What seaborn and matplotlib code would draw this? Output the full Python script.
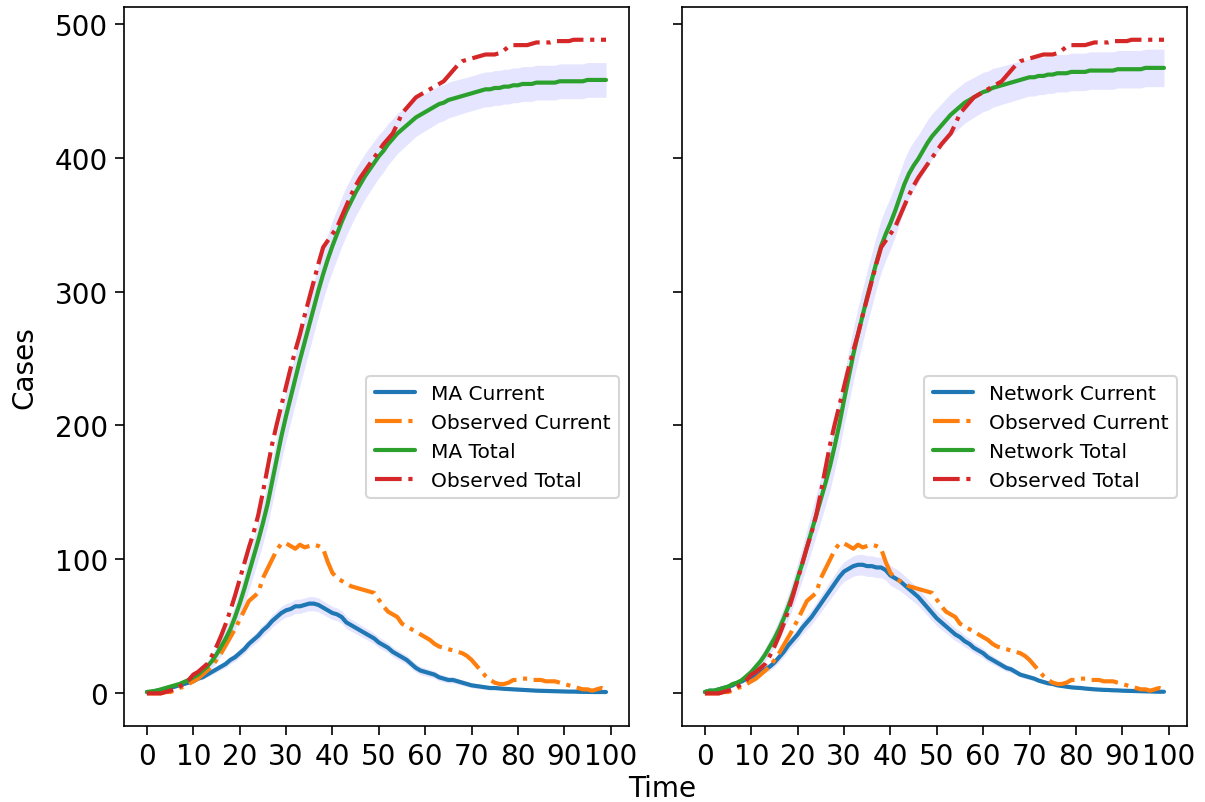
import matplotlib
matplotlib.use("Agg")
import matplotlib.pyplot as plt
import seaborn as sns
import numpy as np

# time steps 0..99
time = list(range(100))

observed_current = [0, 0, 0, 0, 1, 1, 2, 4, 5, 7,
                    9, 11, 14, 17, 20, 25, 30, 36, 42, 48,
                    55, 62, 69, 72, 75, 86, 93, 100, 107, 112,
                    112, 110, 108, 111, 109, 110, 111, 110, 108, 98,
                    90, 86, 84, 82, 80, 79, 78, 77, 76, 75,
                    70, 65, 61, 59, 57, 52, 50, 48, 46, 44,
                    42, 40, 37, 35, 34, 33, 32, 31, 30, 28,
                    25, 21, 17, 13, 10, 8, 7, 7, 8, 10,
                    10, 11, 11, 10, 10, 10, 9, 9, 9, 8,
                    7, 6, 5, 4, 3, 3, 2, 3, 4, 3]

observed_total = [0, 0, 0, 0, 1, 2, 3, 5, 7, 10,
                  14, 16, 19, 22, 28, 35, 43, 52, 62, 73,
                  85, 97, 109, 120, 133, 150, 168, 186, 201, 215,
                  229, 243, 256, 268, 282, 295, 308, 321, 333, 338,
                  343, 348, 356, 364, 372, 379, 385, 390, 395, 400,
                  405, 410, 414, 418, 425, 433, 437, 441, 445, 447,
                  449, 451, 453, 455, 457, 461, 465, 469, 472, 473,
                  474, 475, 476, 477, 477, 477, 478, 480, 483, 484,
                  484, 484, 484, 485, 486, 486, 486, 486, 487, 487,
                  487, 487, 488, 488, 488, 488, 488, 488, 488, 488]

ma_current = [1, 1, 2, 2, 3, 4, 5, 6, 7, 8,
              9, 11, 12, 14, 16, 18, 20, 22, 25, 27,
              30, 33, 37, 40, 43, 47, 50, 54, 57, 60,
              62, 63, 65, 65, 66, 67, 67, 66, 64, 62,
              60, 59, 57, 53, 51, 49, 47, 45, 43, 41,
              38, 36, 34, 31, 29, 27, 25, 22, 19, 17,
              16, 15, 14, 12, 11, 10, 10, 9, 8, 7,
              6, 5.5, 5, 4.5, 4, 4, 3.7, 3.4, 3.2, 3,
              2.8, 2.6, 2.4, 2.2, 2, 1.9, 1.8, 1.7, 1.6, 1.5,
              1.4, 1.3, 1.3, 1.2, 1.1, 1.1, 1, 1, 1, 1]

ma_total = [1, 1.5, 2, 3, 4, 5, 6, 7, 8.5, 10,
            12, 14, 17, 20, 24, 29, 35, 41, 48, 57,
            67, 78, 90, 102, 114, 127, 141, 158, 175, 192,
            207, 221, 235, 249, 262, 275, 288, 301, 313, 324,
            334, 343, 352, 360, 367, 374, 380, 386, 391, 396,
            401, 405, 410, 414, 418, 421, 424, 427, 430, 432,
            434, 436, 438, 440, 441, 443, 444, 445, 446, 447,
            448, 449, 450, 451, 451, 452, 452, 453, 453, 454,
            454, 455, 455, 455, 456, 456, 456, 456, 456, 457,
            457, 457, 457, 457, 457, 458, 458, 458, 458, 458]

net_current = [1, 2, 2, 3, 4, 5, 6, 8, 9, 11,
               12, 14, 16, 18, 20, 23, 27, 31, 36, 40,
               44, 49, 53, 57, 62, 67, 72, 77, 82, 87,
               91, 93, 95, 96, 96, 95, 95, 94, 94, 92,
               88, 86, 84, 81, 78, 75, 72, 68, 64, 60,
               56, 53, 50, 47, 44, 42, 39, 37, 34, 32,
               30, 27, 25, 23, 21, 19, 18, 16, 14, 13,
               12, 11, 9.5, 8.5, 7.5, 7, 6, 5.5, 5, 4.5,
               4.2, 4, 3.6, 3.3, 3, 2.8, 2.6, 2.5, 2.3, 2.2,
               2, 1.9, 1.8, 1.7, 1.6, 1.5, 1.4, 1.3, 1.2, 1.2]

net_total = [1, 2, 2, 3, 4, 5, 7, 8, 10, 13,
             16, 20, 24, 29, 35, 41, 48, 56, 65, 75,
             86, 97, 109, 121, 133, 145, 157, 170, 185, 201,
             219, 236, 253, 268, 282, 296, 309, 322, 334, 343,
             351, 360, 370, 380, 388, 394, 399, 405, 411, 416,
             420, 424, 428, 432, 435, 438, 441, 443, 445, 447,
             449, 450, 452, 453, 454, 455, 456, 457, 458, 459,
             460, 460, 461, 461, 462, 462, 463, 463, 463, 464,
             464, 464, 464, 465, 465, 465, 465, 465, 465, 466,
             466, 466, 466, 466, 466, 467, 467, 467, 467, 467]

# half widths of the shaded bands
ma_current_hw = [0.2, 0.3, 0.4, 0.5, 0.6, 0.7, 0.8, 0.9, 1.0, 1.1,
                 1.2, 1.4, 1.6, 1.8, 2.0, 2.2, 2.4, 2.6, 2.8, 3.0,
                 3.2, 3.4, 3.6, 3.8, 4.0, 4.2, 4.4, 4.6, 4.8, 5.0,
                 5.1, 5.2, 5.3, 5.3, 5.3, 5.3, 5.3, 5.2, 5.1, 5.0,
                 4.9, 4.8, 4.7, 4.6, 4.5, 4.4, 4.3, 4.2, 4.1, 4.0,
                 3.9, 3.8, 3.7, 3.6, 3.5, 3.4, 3.3, 3.2, 3.1, 3.0,
                 2.9, 2.8, 2.7, 2.6, 2.5, 2.4, 2.3, 2.2, 2.1, 2.0,
                 1.9, 1.8, 1.7, 1.6, 1.5, 1.4, 1.3, 1.2, 1.1, 1.0,
                 1.0, 0.9, 0.9, 0.8, 0.8, 0.8, 0.7, 0.7, 0.7, 0.6,
                 0.6, 0.6, 0.6, 0.5, 0.5, 0.5, 0.5, 0.5, 0.5, 0.5]

ma_total_hw = [0.3, 0.4, 0.5, 0.6, 0.8, 1.0, 1.2, 1.5, 1.8, 2.2,
               2.6, 3.1, 3.7, 4.3, 5.0, 5.8, 6.7, 7.6, 8.6, 9.6,
               10.6, 11.6, 12.6, 13.5, 14.4, 15.2, 16.0, 16.6, 17.2, 17.7,
               18.1, 18.4, 18.7, 18.9, 19.0, 19.1, 19.1, 19.1, 19.0, 18.9,
               18.8, 18.6, 18.4, 18.2, 17.9, 17.6, 17.3, 17.0, 16.7, 16.4,
               16.1, 15.8, 15.5, 15.2, 15.0, 14.8, 14.6, 14.4, 14.2, 14.0,
               13.9, 13.8, 13.7, 13.6, 13.5, 13.4, 13.3, 13.2, 13.1, 13.0,
               13.0, 13.0, 13.0, 13.0, 13.0, 13.0, 13.0, 13.0, 13.0, 13.0,
               13.0, 13.0, 13.0, 13.0, 13.0, 13.0, 13.0, 13.0, 13.0, 13.0,
               13.0, 13.0, 13.0, 13.0, 13.0, 13.0, 13.0, 13.0, 13.0, 13.0]

net_current_hw = [0.2, 0.3, 0.4, 0.5, 0.6, 0.8, 1.0, 1.2, 1.4, 1.6,
                  1.8, 2.0, 2.3, 2.6, 2.9, 3.2, 3.5, 3.8, 4.1, 4.4,
                  4.7, 5.0, 5.3, 5.6, 5.9, 6.2, 6.5, 6.8, 7.0, 7.2,
                  7.4, 7.5, 7.6, 7.7, 7.7, 7.7, 7.7, 7.7, 7.6, 7.5,
                  7.4, 7.3, 7.2, 7.0, 6.8, 6.6, 6.4, 6.2, 6.0, 5.8,
                  5.6, 5.4, 5.2, 5.0, 4.8, 4.6, 4.4, 4.2, 4.0, 3.8,
                  3.6, 3.4, 3.2, 3.0, 2.8, 2.6, 2.4, 2.2, 2.0, 1.9,
                  1.8, 1.7, 1.6, 1.5, 1.4, 1.3, 1.2, 1.1, 1.0, 1.0,
                  0.9, 0.9, 0.8, 0.8, 0.8, 0.7, 0.7, 0.7, 0.6, 0.6,
                  0.6, 0.6, 0.5, 0.5, 0.5, 0.5, 0.5, 0.5, 0.5, 0.5]

net_total_hw = [0.3, 0.4, 0.5, 0.7, 0.9, 1.1, 1.4, 1.7, 2.1, 2.5,
                3.0, 3.6, 4.3, 5.0, 5.8, 6.7, 7.6, 8.6, 9.6, 10.6,
                11.6, 12.6, 13.6, 14.5, 15.4, 16.2, 17.0, 17.7, 18.3, 18.8,
                19.2, 19.5, 19.7, 19.9, 20.0, 20.0, 20.0, 19.9, 19.8, 19.6,
                19.4, 19.2, 19.0, 18.7, 18.4, 18.1, 17.8, 17.5, 17.2, 16.9,
                16.6, 16.3, 16.1, 15.9, 15.7, 15.5, 15.3, 15.1, 14.9, 14.8,
                14.7, 14.6, 14.5, 14.4, 14.3, 14.2, 14.2, 14.1, 14.1, 14.0,
                14.0, 14.0, 14.0, 14.0, 14.0, 14.0, 14.0, 14.0, 14.0, 14.0,
                14.0, 14.0, 14.0, 14.0, 14.0, 14.0, 14.0, 14.0, 14.0, 14.0,
                14.0, 14.0, 14.0, 14.0, 14.0, 14.0, 14.0, 14.0, 14.0, 14.0]

x_ticks = [0, 10, 20, 30, 40, 50, 60, 70, 80, 90, 100]
y_ticks = [0, 100, 200, 300, 400, 500]

sns.set_theme(style="ticks", rc={
    "axes.edgecolor": "black",
    "axes.linewidth": 0.8,
    "xtick.color": "black",
    "ytick.color": "black",
    "text.color": "black",
    "axes.labelcolor": "black",
    "xtick.major.size": 4.2,
    "ytick.major.size": 4.2,
    "xtick.major.width": 0.8,
    "ytick.major.width": 0.8,
})
plt.rcParams['font.family'] = ['DejaVu Sans']

fig, axes = plt.subplots(1, 2, figsize=(8.04, 5.353), dpi=150, sharey=True)
fig.subplots_adjust(left=0.1028, right=0.9842, top=0.990, bottom=0.0946, wspace=0.105)

panels = [
    ("MA", ma_current, ma_current_hw, ma_total, ma_total_hw),
    ("Network", net_current, net_current_hw, net_total, net_total_hw),
]

t = np.array(time)
lw = 2.0
for ax, (name, cur, cur_hw, tot, tot_hw) in zip(axes, panels):
    cur = np.array(cur)
    tot = np.array(tot)
    # shaded spread around the model curves
    ax.fill_between(t, cur - np.array(cur_hw), cur + np.array(cur_hw),
                    color="blue", alpha=0.1, linewidth=0, zorder=1)
    ax.fill_between(t, tot - np.array(tot_hw), tot + np.array(tot_hw),
                    color="blue", alpha=0.1, linewidth=0, zorder=1)
    sns.lineplot(x=t, y=cur, ax=ax, color="tab:blue", lw=lw, label=f"{name} Current")
    sns.lineplot(x=t, y=observed_current, ax=ax, color="tab:orange", lw=lw,
                 linestyle="-.", label="Observed Current")
    sns.lineplot(x=t, y=tot, ax=ax, color="tab:green", lw=lw, label=f"{name} Total")
    sns.lineplot(x=t, y=observed_total, ax=ax, color="tab:red", lw=lw,
                 linestyle="-.", label="Observed Total")
    ax.set_xticks(x_ticks)
    ax.set_yticks(y_ticks)
    ax.tick_params(labelsize=13.4)
    ax.set_xlabel("")
    ax.set_ylabel("")
    ax.margins(x=0.05, y=0.05)
    for s in ax.spines.values():
        s.set_visible(True)
    ax.legend(loc="center right", bbox_to_anchor=(1, 0.402), fontsize=9.7,
              frameon=True, edgecolor="0.8", framealpha=0.8, fancybox=True)

axes[0].set_ylabel("Cases", fontsize=13.4, labelpad=8)
fig.text(0.549, 0.0174, "Time", ha="center", va="center", fontsize=13.4)

fig.savefig("out.png", dpi=150)
